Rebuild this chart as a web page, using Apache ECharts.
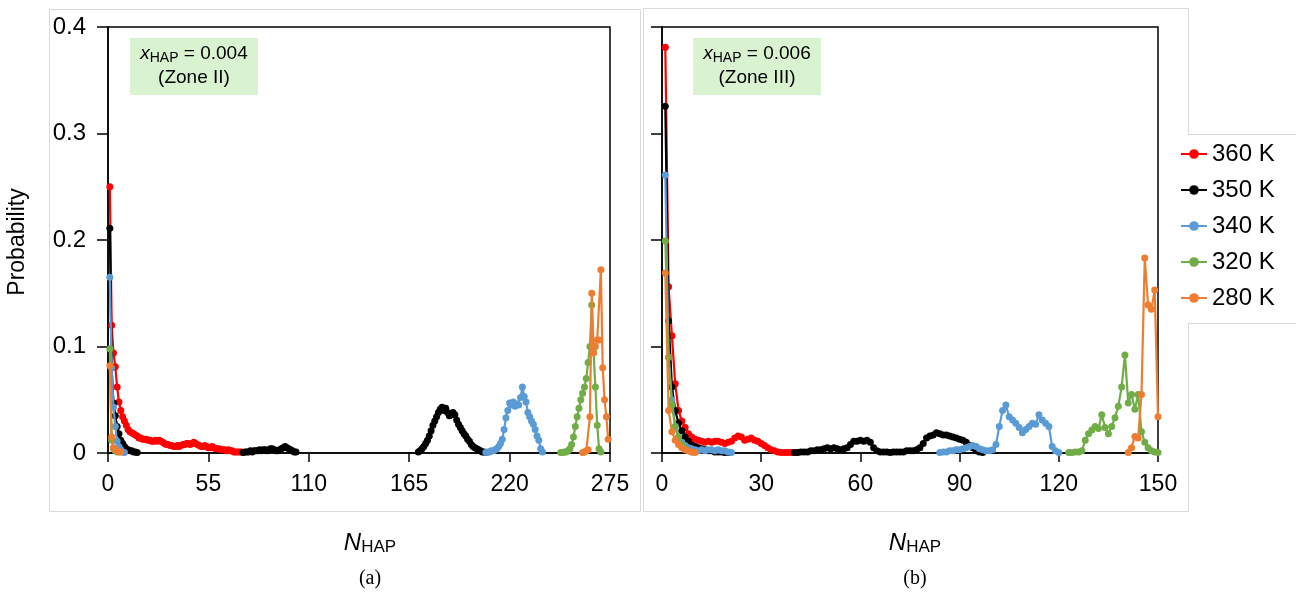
<!DOCTYPE html>
<html><head><meta charset="utf-8">
<script src="https://cdn.jsdelivr.net/npm/echarts@6/dist/echarts.min.js"></script>
<style>html,body{margin:0;padding:0;background:#fff}#c{width:1296px;height:597px}</style>
</head><body><div id="c"></div>
<script>
// ---------- tick settings ----------
const yTicks = [0, 0.1, 0.2, 0.3, 0.4];
const xTicksA = [0, 55, 110, 165, 220, 275];
const xTicksB = [0, 30, 60, 90, 120, 150];
const seriesNames = ['360 K', '350 K', '340 K', '320 K', '280 K'];

// ---------- panel (a): x_HAP = 0.004 ; each entry = [start N, values...] ----------
const a360 = [[1, [0.25,0.12,0.094,0.081,0.062,0.048,0.04,0.034,0.03,0.026,0.022,0.02,0.019,0.018,0.017,0.016,0.014,0.014,0.013,0.013,0.013,0.012,0.012,0.011,0.011,0.012,0.011,0.012,0.011,0.010,0.009,0.008,0.008,0.007,0.007,0.006,0.006,0.007,0.006,0.007,0.008,0.008,0.009,0.009,0.008,0.009,0.010,0.009,0.008,0.007,0.006,0.006,0.007,0.006,0.005,0.005,0.006,0.005,0.004,0.004,0.004,0.003,0.003,0.003,0.002,0.003,0.002,0.002,0.001,0.001,0.001,0.001,0.001]]];
const a350 = [[1, [0.211,0.08,0.047,0.035,0.025,0.018,0.012,0.009,0.006,0.004,0.003,0.002,0.002,0.001,0.001,0.0005]],
              [74, [0.0005,0.001,0.001,0.001,0.002,0.001,0.002,0.002,0.002,0.003,0.002,0.003,0.003,0.002,0.003,0.004,0.004,0.003,0.002,0.002,0.003,0.004,0.005,0.006,0.005,0.004,0.003,0.002,0.001,0.001]],
              [170, [0.001,0.002,0.004,0.006,0.009,0.012,0.016,0.021,0.026,0.030,0.034,0.038,0.041,0.043,0.040,0.042,0.038,0.035,0.036,0.038,0.036,0.031,0.027,0.024,0.021,0.018,0.016,0.013,0.011,0.008,0.006,0.005,0.004,0.003,0.002,0.001,0.001,0.0005]]];
const a340 = [[1, [0.165,0.08,0.043,0.025,0.011,0.006,0.003,0.001,0.0005]],
              [207, [0.0005,0.001,0.001,0.002,0.002,0.003,0.004,0.006,0.009,0.013,0.022,0.033,0.040,0.047,0.045,0.048,0.044,0.046,0.045,0.052,0.062,0.053,0.048,0.038,0.034,0.030,0.027,0.022,0.016,0.012,0.004,0.001]]];
const a320 = [[1, [0.098,0.012,0.004,0.002,0.001]],
              [248, [0.0005,0.0005,0.001,0.001,0.002,0.004,0.008,0.015,0.025,0.034,0.042,0.05,0.056,0.062,0.07,0.085,0.1,0.139,0.095,0.062,0.026,0.004,0.001]]];
const a280 = [[1, [0.082,0.015,0.005,0.003,0.002,0.001,0.001]],
              [260, [0.0005,0.001,0.002,0.003,0.034,0.15,0.094,0.1,0.106,0.106,0.172,0.08,0.05,0.034,0.013]]];

// ---------- panel (b): x_HAP = 0.006 ----------
const b360 = [[1, [0.381,0.156,0.11,0.065,0.04,0.03,0.024,0.018,0.015,0.013,0.012,0.011,0.01,0.011,0.01,0.011,0.011,0.01,0.009,0.01,0.011,0.014,0.016,0.015,0.012,0.013,0.014,0.012,0.011,0.009,0.007,0.005,0.003,0.002,0.001,0.0005,0.0005,0.0005,0.0005,0.0005]]];
const b350 = [[1, [0.3255,0.124,0.062,0.04,0.028,0.021,0.015,0.011,0.0075,0.006,0.005,0.004,0.003,0.002,0.002,0.001,0.001,0.001,0.0005,0.0005]],
              [40, [0.0005,0.0005,0.001,0.001,0.001,0.002,0.002,0.003,0.003,0.004,0.005,0.004,0.005,0.004,0.003,0.004,0.005,0.008,0.011,0.011,0.012,0.011,0.012,0.010,0.005,0.002,0.001,0.001,0.001,0.0005,0.001,0.001,0.001,0.001,0.002,0.002,0.002,0.003,0.005,0.009,0.014,0.016,0.017,0.019,0.018,0.017,0.017,0.016,0.015,0.014,0.013,0.012,0.010,0.007,0.005,0.002,0.001,0.0005]]];
const b340 = [[1, [0.261,0.09,0.05,0.025,0.015,0.01,0.007,0.005,0.004,0.003,0.002,0.003,0.002,0.003,0.003,0.002,0.003,0.002,0.002,0.001,0.0005]],
              [84, [0.0005,0.001,0.001,0.002,0.002,0.003,0.003,0.004,0.005,0.006,0.007,0.006,0.004,0.003,0.002,0.002,0.003,0.008,0.025,0.04,0.045,0.034,0.031,0.028,0.024,0.019,0.022,0.025,0.028,0.027,0.036,0.031,0.028,0.025,0.006,0.002,0.0005]]];
const b320 = [[1, [0.199,0.09,0.045,0.025,0.015,0.008,0.004,0.002,0.001]],
              [123, [0.0005,0.0005,0.001,0.001,0.002,0.012,0.018,0.0215,0.025,0.023,0.036,0.024,0.018,0.025,0.033,0.044,0.062,0.092,0.047,0.055,0.041,0.055,0.02,0.01,0.005,0.002,0.001,0.0005]]];
const b280 = [[1, [0.169,0.04,0.02,0.012,0.008,0.005,0.003,0.002,0.001,0.0005]],
              [141, [0.0005,0.005,0.0155,0.014,0.055,0.183,0.139,0.135,0.153,0.034]]];

const colors = ['#FF0000', '#000000', '#5B9BD5', '#70AD47', '#ED7D31'];
const panelA = [a360, a350, a340, a320, a280];
const panelB = [b360, b350, b340, b320, b280];

function build(segs) {
  const out = [];
  segs.forEach((s, k) => {
    if (k > 0) out.push([s[0] - 0.5, '-']);
    s[1].forEach((v, i) => out.push([s[0] + i, v]));
  });
  return out;
}

const FONT = 'Liberation Sans, Arial, sans-serif';
const series = [];
[panelA, panelB].forEach((panel, p) => {
  panel.forEach((segs, i) => {
    series.push({
      type: 'line', name: seriesNames[i], xAxisIndex: p, yAxisIndex: p,
      data: build(segs), connectNulls: false,
      symbol: 'circle', symbolSize: 7, showSymbol: true,
      lineStyle: { width: 2.2, color: colors[i] },
      itemStyle: { color: colors[i] },
      emphasis: { disabled: true }, animation: false, z: 2 + i
    });
  });
});

function xAxis(idx, ticks) {
  return {
    type: 'value', gridIndex: idx, min: ticks[0], max: ticks[ticks.length - 1],
    interval: ticks[1] - ticks[0],
    axisLine: { show: true, onZero: false, lineStyle: { color: '#000', width: 1.5 } },
    axisTick: { show: true, inside: false, length: 9, lineStyle: { color: '#000', width: 1.5 } },
    axisLabel: { color: '#000', fontSize: 23, fontFamily: FONT, margin: 20 },
    splitLine: { show: false }
  };
}
function yAxis(idx, labels) {
  return {
    type: 'value', gridIndex: idx, min: yTicks[0], max: yTicks[yTicks.length - 1],
    interval: yTicks[1] - yTicks[0],
    axisLine: { show: true, lineStyle: { color: '#000', width: 1.5 } },
    axisTick: { show: true, inside: false, length: 11, lineStyle: { color: '#000', width: 1.5 } },
    axisLabel: { show: labels, color: '#000', fontSize: 24, fontFamily: FONT, margin: 22,
      formatter: v => (v === 0 ? '0' : v.toFixed(1)) },
    splitLine: { show: false }
  };
}

const sub = { fontSize: 14, fontFamily: FONT, color: '#000', padding: [8, 0, 0, 0] };
const main = { fontSize: 19, fontFamily: FONT, color: '#000' };

const option = {
  backgroundColor: '#fff',
  animation: false,
  grid: [
    { left: 108, top: 27, width: 502, height: 426, show: true, borderColor: '#000', borderWidth: 1.5, backgroundColor: 'transparent' },
    { left: 662, top: 27, width: 496, height: 426, show: true, borderColor: '#000', borderWidth: 1.5, backgroundColor: 'transparent' }
  ],
  xAxis: [xAxis(0, xTicksA), xAxis(1, xTicksB)],
  yAxis: [yAxis(0, true), yAxis(1, false)],
  legend: {
    data: seriesNames, orient: 'vertical', left: 1180, top: 141, padding: 0,
    itemWidth: 26, itemHeight: 12, itemGap: 10,
    textStyle: { fontSize: 24, fontFamily: FONT, color: '#000', lineHeight: 26 },
    selectedMode: false
  },
  graphic: [
    { type: 'rect', z: -10, shape: { x: 49.5, y: 9.5, width: 591, height: 502 }, style: { fill: 'none', stroke: '#d9d9d9', lineWidth: 1 } },
    { type: 'rect', z: -10, shape: { x: 643.5, y: 8.5, width: 545, height: 503 }, style: { fill: 'none', stroke: '#d9d9d9', lineWidth: 1 } },
    { type: 'rect', z: -9, shape: { x: 1186, y: 134.5, width: 112, height: 189 }, style: { fill: '#fff', stroke: null } },
    { type: 'line', z: -8, shape: { x1: 1188, y1: 134.5, x2: 1296, y2: 134.5 }, style: { stroke: '#d9d9d9', lineWidth: 1 } },
    { type: 'line', z: -8, shape: { x1: 1188, y1: 323.5, x2: 1296, y2: 323.5 }, style: { stroke: '#d9d9d9', lineWidth: 1 } },
    { type: 'text', x: 18, y: 242, rotation: Math.PI / 2,
      style: { text: 'Probability', fontSize: 23, fontFamily: FONT, fill: '#000', align: 'center', verticalAlign: 'middle' } },
    { type: 'rect', shape: { x: 130, y: 38, width: 128, height: 57 }, style: { fill: '#d9f2d0' } },
    { type: 'text', x: 194, y: 66,
      style: { text: '{i|x}{s|HAP}{n| = 0.004}\n{n|(Zone II)}', align: 'center', verticalAlign: 'middle', lineHeight: 24,
        rich: { i: Object.assign({}, main, { fontStyle: 'italic' }), s: sub, n: main } } },
    { type: 'rect', shape: { x: 693, y: 38, width: 128, height: 57 }, style: { fill: '#d9f2d0' } },
    { type: 'text', x: 757, y: 66,
      style: { text: '{i|x}{s|HAP}{n| = 0.006}\n{n|(Zone III)}', align: 'center', verticalAlign: 'middle', lineHeight: 24,
        rich: { i: Object.assign({}, main, { fontStyle: 'italic' }), s: sub, n: main } } },
    { type: 'text', x: 370, y: 543,
      style: { text: '{i|N}{s|HAP}', align: 'center', verticalAlign: 'middle',
        rich: { i: { fontSize: 24, fontStyle: 'italic', fontFamily: FONT, color: '#000' }, s: { fontSize: 17, fontFamily: FONT, color: '#000', padding: [9, 0, 0, 0] } } } },
    { type: 'text', x: 915, y: 543,
      style: { text: '{i|N}{s|HAP}', align: 'center', verticalAlign: 'middle',
        rich: { i: { fontSize: 24, fontStyle: 'italic', fontFamily: FONT, color: '#000' }, s: { fontSize: 17, fontFamily: FONT, color: '#000', padding: [9, 0, 0, 0] } } } },
    { type: 'text', x: 370, y: 579,
      style: { text: '(a)', fontSize: 20, fontFamily: 'Liberation Serif, Times New Roman, serif', fill: '#000', align: 'center', verticalAlign: 'middle' } },
    { type: 'text', x: 915, y: 579,
      style: { text: '(b)', fontSize: 20, fontFamily: 'Liberation Serif, Times New Roman, serif', fill: '#000', align: 'center', verticalAlign: 'middle' } }
  ],
  series: series
};

const chart = echarts.init(document.getElementById('c'), null, { renderer: 'canvas' });
chart.setOption(option);
</script>
</body></html>
